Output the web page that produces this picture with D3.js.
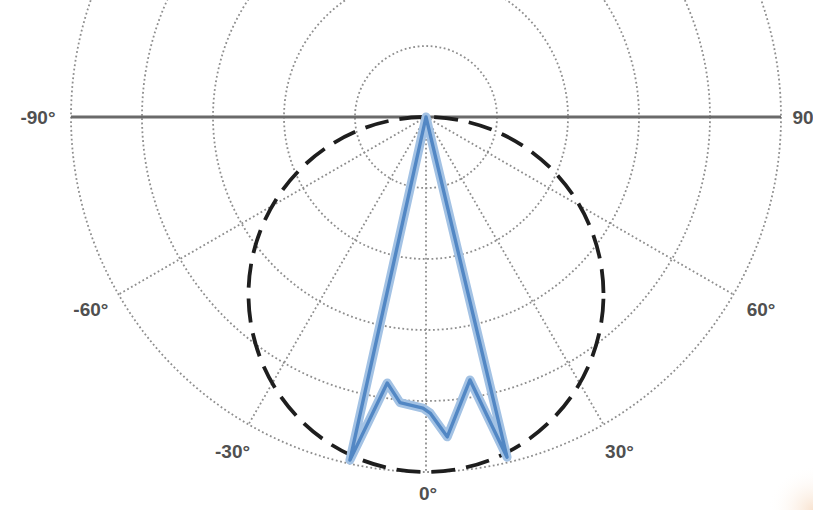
<!DOCTYPE html>
<html>
<head>
<meta charset="utf-8">
<script src="https://cdn.jsdelivr.net/npm/d3@7"></script>
<style>
  html, body { margin: 0; padding: 0; background: #fff; }
  svg { display: block; }
  .lbl { font-family: "Liberation Sans Narrow", "Liberation Sans", Arial, sans-serif; font-stretch: condensed; font-size: 19px; font-weight: bold; fill: #505050; }
</style>
</head>
<body>
<svg id="chart" width="813" height="510"></svg>
<script>
// Relative luminous intensity (1.0 = outer ring), angle in degrees from nadir
const beamAngles = [-14, -12.5, -8.3, -5.2, -0.6, 0.8, 3.8, 9.5, 13.4, 14.5];
const beamValues = [0, 0.99, 0.757, 0.808, 0.82, 0.834, 0.903, 0.751, 0.985, 0];

// Grid definition
const ringValues = [0.2, 0.4, 0.6, 0.8, 1.0];
const spokeAngles = [-60, -30, 0, 30, 60];
const angleLabels = [
  { angle: -90, text: "-90°" },
  { angle: -60, text: "-60°" },
  { angle: -30, text: "-30°" },
  { angle: 0,   text: "0°" },
  { angle: 30,  text: "30°" },
  { angle: 60,  text: "60°" },
  { angle: 90,  text: "90" }
];
// Lambertian reference: peak intensity of the cosine distribution
const lambertPeak = 1.0;

const W = 813, H = 510;
const cx = 426, cy = 117, R = 355;

const svg = d3.select("#chart");
const rScale = d3.scaleLinear().domain([0, 1]).range([0, R]);
const rad = d => d * Math.PI / 180;
const px = (a, v) => cx + rScale(v) * Math.sin(rad(a));
const py = (a, v) => cy + rScale(v) * Math.cos(rad(a));

// faint warm tint in the lower-right corner
const defs = svg.append("defs");
const grad = defs.append("radialGradient").attr("id", "warm")
  .attr("gradientUnits", "userSpaceOnUse")
  .attr("cx", W).attr("cy", H).attr("r", 45);
grad.append("stop").attr("offset", "0%").attr("stop-color", "#f7dcc4").attr("stop-opacity", 0.8);
grad.append("stop").attr("offset", "100%").attr("stop-color", "#fff").attr("stop-opacity", 0);
svg.append("rect").attr("width", W).attr("height", H).attr("fill", "#fff");
svg.append("rect").attr("width", W).attr("height", H).attr("fill", "url(#warm)");

// dotted rings
svg.append("g").selectAll("circle").data(ringValues).join("circle")
  .attr("cx", cx).attr("cy", cy).attr("r", d => rScale(d))
  .attr("fill", "none").attr("stroke", "#8e8e8e")
  .attr("stroke-width", 1.8).attr("stroke-dasharray", "1.8,2.6");

// dotted spokes (lower half)
svg.append("g").selectAll("line").data(spokeAngles).join("line")
  .attr("x1", cx).attr("y1", cy)
  .attr("x2", d => px(d, 1)).attr("y2", d => py(d, 1))
  .attr("stroke", "#8e8e8e").attr("stroke-width", 1.8).attr("stroke-dasharray", "1.8,2.6");

// horizontal -90..90 axis
svg.append("line")
  .attr("x1", px(-90, 1)).attr("y1", py(-90, 1))
  .attr("x2", px(90, 1)).attr("y2", py(90, 1))
  .attr("stroke", "#6a6a6a").attr("stroke-width", 3.2);

// Lambertian (cosine) reference circle, dashed
const lr = rScale(lambertPeak) / 2;
const period = 35, dash = 24;
const bottomArc = Math.PI * lr / 2;
const offset = ((dash + (period - dash) / 2 - bottomArc) % period + period) % period;
svg.append("circle")
  .attr("cx", cx).attr("cy", cy + lr).attr("r", lr)
  .attr("fill", "none").attr("stroke", "#1e1e1e").attr("stroke-width", 3.8)
  .attr("stroke-dasharray", dash + "," + (period - dash))
  .attr("stroke-dashoffset", offset);

// measured beam distribution
const beam = beamAngles.map((a, i) => [px(a, beamValues[i]), py(a, beamValues[i])]);
const line = d3.line();
svg.append("path").attr("d", line(beam))
  .attr("fill", "none").attr("stroke", "#a3c2e4").attr("stroke-width", 9)
  .attr("stroke-linejoin", "round").attr("stroke-linecap", "round");
svg.append("path").attr("d", line(beam))
  .attr("fill", "none").attr("stroke", "#5287c4").attr("stroke-width", 3.4)
  .attr("stroke-linejoin", "round").attr("stroke-linecap", "round");

// angle labels
const labelPos = {
  "-90": [38, 124], "90": [803, 124], "0": [428, 500]
};
svg.append("g").selectAll("text").data(angleLabels).join("text")
  .attr("class", "lbl")
  .attr("text-anchor", "middle")
  .attr("x", d => labelPos[d.angle] ? labelPos[d.angle][0] : px(d.angle, 1.09))
  .attr("y", d => labelPos[d.angle] ? labelPos[d.angle][1] : py(d.angle, 1.09) + 6)
  .text(d => d.text);
</script>
</body>
</html>
